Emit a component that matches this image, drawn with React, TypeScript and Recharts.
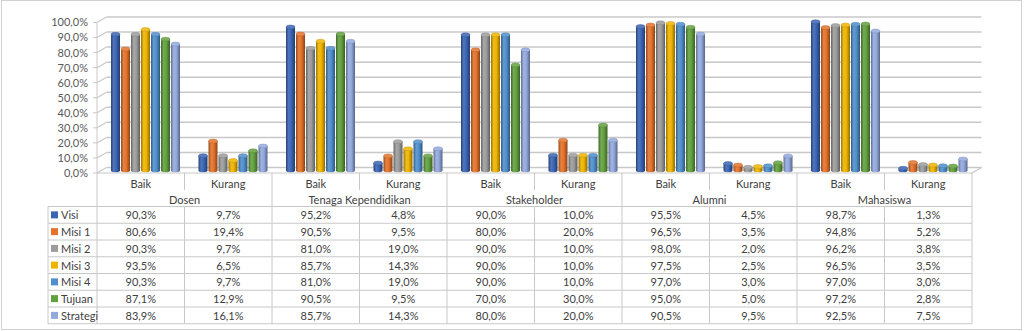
import { Bar, BarChart, CartesianGrid, XAxis, YAxis } from 'recharts'

const categories = ['Baik', 'Kurang', 'Baik', 'Kurang', 'Baik', 'Kurang', 'Baik', 'Kurang', 'Baik', 'Kurang']
const groups = ['Dosen', 'Tenaga Kependidikan', 'Stakeholder', 'Alumni', 'Mahasiswa']

const visi = [90.3, 9.7, 95.2, 4.8, 90.0, 10.0, 95.5, 4.5, 98.7, 1.3]
const misi1 = [80.6, 19.4, 90.5, 9.5, 80.0, 20.0, 96.5, 3.5, 94.8, 5.2]
const misi2 = [90.3, 9.7, 81.0, 19.0, 90.0, 10.0, 98.0, 2.0, 96.2, 3.8]
const misi3 = [93.5, 6.5, 85.7, 14.3, 90.0, 10.0, 97.5, 2.5, 96.5, 3.5]
const misi4 = [90.3, 9.7, 81.0, 19.0, 90.0, 10.0, 97.0, 3.0, 97.0, 3.0]
const tujuan = [87.1, 12.9, 90.5, 9.5, 70.0, 30.0, 95.0, 5.0, 97.2, 2.8]
const strategi = [83.9, 16.1, 85.7, 14.3, 80.0, 20.0, 90.5, 9.5, 92.5, 7.5]

const seriesNames = ['Visi', 'Misi 1', 'Misi 2', 'Misi 3', 'Misi 4', 'Tujuan', 'Strategi']
const seriesValues = [visi, misi1, misi2, misi3, misi4, tujuan, strategi]
const seriesColors = ['#3a64b4', '#e4722a', '#9c9c9c', '#efb400', '#4f8fcc', '#62a03e', '#93a9de']
const yTicks = [0, 10, 20, 30, 40, 50, 60, 70, 80, 90, 100]

const data = categories.map((cat, i) => {
  const row: Record<string, string | number> = { cat, group: groups[Math.floor(i / 2)] }
  seriesValues.forEach((vals, s) => {
    row['s' + s] = vals[i]
  })
  return row
})

// layout
const W = 1024
const H = 331
const PLOT_LEFT = 97
const PLOT_RIGHT = 972
const PLOT_TOP = 22.5
const PLOT_BOTTOM = 173
const BAND = (PLOT_RIGHT - PLOT_LEFT) / categories.length
const HEAD_H = 17
const GROUP_H = 16.5
const ROW_H = 16.75
const DEPTH_X = 9.5
const DEPTH_Y = 5.5
const LEGEND_LEFT = 48
const FONT = 'Lato, "DejaVu Sans", sans-serif'
const LINE = '#c8c8c8'
const TEXT = '#404040'

const fmt = (v: number) => v.toFixed(1).replace('.', ',') + '%'

function shade(hex: string, k: number) {
  const n = parseInt(hex.slice(1), 16)
  const ch = [(n >> 16) & 255, (n >> 8) & 255, n & 255].map((c) =>
    Math.round(k < 0 ? c * (1 + k) : c + (255 - c) * k),
  )
  return `rgb(${ch.join(',')})`
}

function Cylinder(props: any) {
  const { x, y, width, height, s } = props
  if (height == null || width == null) return null
  const w = width - 1
  const left = x + DEPTH_X / 2 + 0.5
  const top = y - DEPTH_Y / 2
  const bottom = y + height - DEPTH_Y / 2
  const ry = 2
  return (
    <g>
      <path
        d={`M${left},${top} L${left},${bottom} A${w / 2},${ry} 0 0 0 ${left + w},${bottom} L${left + w},${top} Z`}
        fill={`url(#cyl-${s})`}
      />
      <ellipse cx={left + w / 2} cy={top} rx={w / 2} ry={ry} fill={shade(seriesColors[s], 0.15)} stroke={shade(seriesColors[s], -0.2)} strokeWidth={0.4} />
    </g>
  )
}

function GridLine(p: any) {
  const { x1, y1, x2, y2 } = p
  const isFloor = y1 > PLOT_BOTTOM - 1
  return (
    <g key={p.key}>
      <line x1={x1} y1={y1} x2={x1 + DEPTH_X} y2={y1 - DEPTH_Y} stroke={LINE} strokeWidth={1.2} />
      <line x1={x1 + DEPTH_X} y1={y1 - DEPTH_Y} x2={x2 + DEPTH_X} y2={y2 - DEPTH_Y} stroke={LINE} strokeWidth={1.5} />
      {isFloor && (
        <line x1={x2} y1={y2} x2={x2 + DEPTH_X} y2={y2 - DEPTH_Y} stroke={LINE} strokeWidth={1.2} />
      )}
    </g>
  )
}

function HeadTick(p: any) {
  const { x, y, payload } = p
  const i = p.index ?? payload.index
  return (
    <g>
      {i % 2 === 1 && <line x1={x - BAND / 2} y1={y} x2={x - BAND / 2} y2={y + HEAD_H} stroke={LINE} />}
      <text x={x} y={y + 10.5} textAnchor="middle" dominantBaseline="central" fontSize={11} fill={TEXT} fontFamily={FONT}>
        {payload.value}
      </text>
    </g>
  )
}

function GroupTick(p: any) {
  const { x, y, payload } = p
  const i = p.index ?? payload.index
  if (i % 2 === 1) return <g />
  return (
    <g>
      <line x1={x - BAND / 2} y1={y - HEAD_H} x2={x - BAND / 2} y2={y + GROUP_H} stroke={LINE} />
      {i === categories.length - 2 && (
        <line x1={x + BAND * 1.5} y1={y - HEAD_H} x2={x + BAND * 1.5} y2={y + GROUP_H} stroke={LINE} />
      )}
      <text x={x + BAND / 2} y={y + 9.5} textAnchor="middle" dominantBaseline="central" fontSize={11} fill={TEXT} fontFamily={FONT}>
        {data[i].group as string}
      </text>
    </g>
  )
}

function DataTick(p: any) {
  const { x, y, s } = p
  const i = p.index ?? p.payload.index
  const last = s === seriesNames.length - 1
  return (
    <g>
      <line x1={x - BAND / 2} y1={y} x2={x + BAND / 2} y2={y} stroke={LINE} />
      {last && <line x1={x - BAND / 2} y1={y + ROW_H} x2={x + BAND / 2} y2={y + ROW_H} stroke={LINE} />}
      <line x1={x - BAND / 2} y1={y} x2={x - BAND / 2} y2={y + ROW_H} stroke={LINE} />
      {i === categories.length - 1 && (
        <line x1={x + BAND / 2} y1={y} x2={x + BAND / 2} y2={y + ROW_H} stroke={LINE} />
      )}
      {i === 0 && (
        <g>
          <line x1={LEGEND_LEFT} y1={y} x2={x - BAND / 2} y2={y} stroke={LINE} />
          {last && <line x1={LEGEND_LEFT} y1={y + ROW_H} x2={x - BAND / 2} y2={y + ROW_H} stroke={LINE} />}
          <line x1={LEGEND_LEFT} y1={y} x2={LEGEND_LEFT} y2={y + ROW_H} stroke={LINE} />
          <rect x={LEGEND_LEFT + 3} y={y + ROW_H / 2 - 3.5} width={7} height={7} fill={seriesColors[s]} />
          <text x={LEGEND_LEFT + 13} y={y + ROW_H / 2} dominantBaseline="central" fontSize={11} fill={TEXT} fontFamily={FONT}>
            {seriesNames[s]}
          </text>
        </g>
      )}
      <text x={x} y={y + ROW_H / 2} textAnchor="middle" dominantBaseline="central" fontSize={11} fill={TEXT} fontFamily={FONT}>
        {fmt(seriesValues[s][i])}
      </text>
    </g>
  )
}

export default function App() {
  const bottom = H - PLOT_BOTTOM - HEAD_H - GROUP_H - seriesNames.length * ROW_H
  return (
    <div style={{ position: 'absolute', left: 0, top: 0, width: W, height: H, background: '#fff', fontFamily: FONT }}>
      <svg width={0} height={0} style={{ position: 'absolute' }}>
        <defs>
          {seriesColors.map((c, s) => (
            <linearGradient key={s} id={`cyl-${s}`} x1="0" y1="0" x2="1" y2="0">
              <stop offset="0%" stopColor={shade(c, -0.35)} />
              <stop offset="30%" stopColor={shade(c, 0.12)} />
              <stop offset="60%" stopColor={c} />
              <stop offset="100%" stopColor={shade(c, -0.4)} />
            </linearGradient>
          ))}
        </defs>
      </svg>
      <div
        style={{
          position: 'absolute',
          left: 1,
          top: 0,
          width: 1019,
          height: 328,
          border: '1px solid #d0d0d0',
        }}
      />
      <BarChart
        width={W}
        height={H}
        data={data}
        margin={{ top: PLOT_TOP, right: W - PLOT_RIGHT, left: PLOT_LEFT - 60, bottom }}
        barCategoryGap="10%"
        barGap={0}
        style={{ position: 'absolute', left: 0, top: 0 }}
      >
        <CartesianGrid vertical={false} horizontal={GridLine} />
        <YAxis
          domain={[0, 100]}
          ticks={yTicks}
          width={60}
          tickFormatter={fmt}
          axisLine={{ stroke: LINE }}
          tickLine={{ stroke: LINE }}
          tickSize={4}
          tickMargin={5}
          tick={{ fontSize: 11, fill: '#595959', fontFamily: FONT }}
          interval={0}
        />
        <XAxis
          xAxisId="cat"
          dataKey="cat"
          height={HEAD_H}
          interval={0}
          tickSize={0}
          tickMargin={0}
          tickLine={false}
          axisLine={{ stroke: LINE }}
          tick={HeadTick}
        />
        <XAxis
          xAxisId="group"
          dataKey="cat"
          height={GROUP_H}
          interval={0}
          tickSize={0}
          tickMargin={0}
          tickLine={false}
          axisLine={false}
          tick={GroupTick}
        />
        {seriesNames.map((name, s) => (
          <XAxis
            key={name}
            xAxisId={'row' + s}
            dataKey="cat"
            height={ROW_H}
            interval={0}
            tickSize={0}
            tickMargin={0}
            tickLine={false}
            axisLine={false}
            tick={(p: any) => <DataTick {...p} s={s} />}
          />
        ))}
        {seriesNames.map((name, s) => (
          <Bar
            key={name}
            xAxisId="cat"
            dataKey={'s' + s}
            name={name}
            fill={seriesColors[s]}
            isAnimationActive={false}
            shape={(p: any) => <Cylinder {...p} s={s} />}
          />
        ))}
      </BarChart>
    </div>
  )
}
